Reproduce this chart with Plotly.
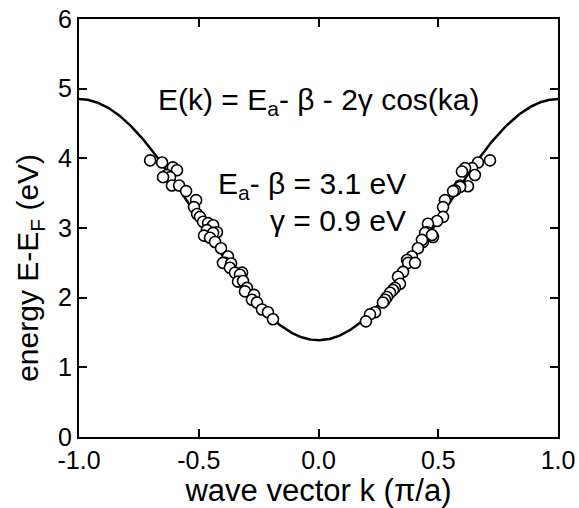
import numpy as np
import plotly.graph_objects as go

# Fit parameters
E0 = 3.12      # E_a - beta (curve midpoint)
GAMMA = 0.865  # half the bandwidth / 2

# Measured points, left branch (k in pi/a, E in eV)
k_left = [-0.703, -0.653, -0.608, -0.591, -0.633, -0.620, -0.649, -0.612, -0.582, -0.553,
          -0.511, -0.520, -0.507, -0.495, -0.482, -0.461, -0.440, -0.466, -0.424, -0.440,
          -0.478, -0.453, -0.432, -0.407, -0.378, -0.390, -0.399, -0.365, -0.370, -0.349,
          -0.319, -0.328, -0.336, -0.315, -0.299, -0.307, -0.269, -0.278, -0.257, -0.236,
          -0.211, -0.190]
E_left = [3.97, 3.94, 3.87, 3.83, 3.76, 3.73, 3.73, 3.61, 3.61, 3.53,
          3.40, 3.30, 3.20, 3.16, 3.09, 3.07, 3.04, 2.97, 2.94, 2.93,
          2.89, 2.86, 2.80, 2.71, 2.59, 2.50, 2.50, 2.49, 2.43, 2.36,
          2.36, 2.33, 2.23, 2.24, 2.14, 2.09, 2.04, 1.97, 1.93, 1.83,
          1.79, 1.69]

# Measured points, right branch
k_right = [0.716, 0.666, 0.641, 0.612, 0.599, 0.653, 0.624, 0.591, 0.591, 0.570,
           0.562, 0.528, 0.520, 0.520, 0.495, 0.457, 0.478, 0.453, 0.445, 0.474,
           0.436, 0.432, 0.415, 0.390, 0.370, 0.374, 0.403, 0.353, 0.332, 0.340,
           0.319, 0.311, 0.299, 0.286, 0.278, 0.269, 0.236, 0.215, 0.198]
E_right = [3.97, 3.94, 3.86, 3.86, 3.81, 3.76, 3.60, 3.61, 3.59, 3.54,
           3.53, 3.40, 3.30, 3.16, 3.10, 3.06, 2.87, 2.94, 2.93, 2.90,
           2.80, 2.83, 2.71, 2.59, 2.54, 2.50, 2.50, 2.37, 2.30, 2.20,
           2.14, 2.11, 2.07, 2.01, 1.97, 1.93, 1.79, 1.76, 1.66]

x_ticks = [-1.0, -0.5, 0.0, 0.5, 1.0]
x_tick_text = ["-1.0", "-0.5", "0.0", "0.5", "1.0"]
y_ticks = [0, 1, 2, 3, 4, 5, 6]

k_fit = np.linspace(-1, 1, 401)
E_fit = E0 - 2 * GAMMA * np.cos(np.pi * k_fit)

FONT = "Liberation Sans, Arial, Helvetica, sans-serif"

fig = go.Figure()
fig.add_trace(go.Scatter(x=k_fit, y=E_fit, mode="lines",
                         line=dict(color="black", width=2.5), showlegend=False))
fig.add_trace(go.Scatter(x=k_left + k_right, y=E_left + E_right, mode="markers",
                         marker=dict(symbol="circle", size=11, color="white",
                                     line=dict(color="black", width=1.6)),
                         showlegend=False))

fig.add_annotation(x=0.003, y=4.82, xref="x", yref="y", showarrow=False,
                   text="E(k) = E<sub>a</sub>- β - 2γ cos(ka)",
                   font=dict(family=FONT, size=30, color="black"))
fig.add_annotation(x=0.374, y=3.61, xref="x", yref="y", showarrow=False, xanchor="right",
                   text="E<sub>a</sub>- β = 3.1 eV",
                   font=dict(family=FONT, size=30, color="black"))
fig.add_annotation(x=0.374, y=3.11, xref="x", yref="y", showarrow=False, xanchor="right",
                   text="γ = 0.9 eV",
                   font=dict(family=FONT, size=30, color="black"))
# y-axis title (placed as an annotation to match the reference position)
fig.add_annotation(x=-0.102, y=0.405, xref="paper", yref="paper", showarrow=False,
                   xanchor="center", yanchor="middle", textangle=-90,
                   text="energy E-E<sub>F</sub> (eV)",
                   font=dict(family=FONT, size=30, color="black"))

fig.update_layout(
    width=579, height=508,
    margin=dict(l=79, r=21, t=19, b=71, autoexpand=False),
    plot_bgcolor="white", paper_bgcolor="white",
    font=dict(family=FONT, size=20, color="black"),
)
fig.update_xaxes(range=[-1, 1], tickvals=x_ticks, ticktext=x_tick_text,
                 ticks="inside", ticklen=8, tickwidth=2, tickcolor="black",
                 showline=True, linecolor="black", linewidth=2, mirror="ticks",
                 showgrid=False, zeroline=False, automargin=False,
                 tickfont=dict(family=FONT, size=25),
                 title=dict(text="wave vector k (π/a)", font=dict(family=FONT, size=31), standoff=2))
fig.update_yaxes(range=[0, 6], tickvals=y_ticks,
                 ticks="inside", ticklen=8, tickwidth=2, tickcolor="black",
                 showline=True, linecolor="black", linewidth=2, mirror="ticks",
                 showgrid=False, zeroline=False, automargin=False,
                 tickfont=dict(family=FONT, size=25))

fig.write_html("out.html", config={"displayModeBar": False},
               post_script="document.body.style.margin='0';")
